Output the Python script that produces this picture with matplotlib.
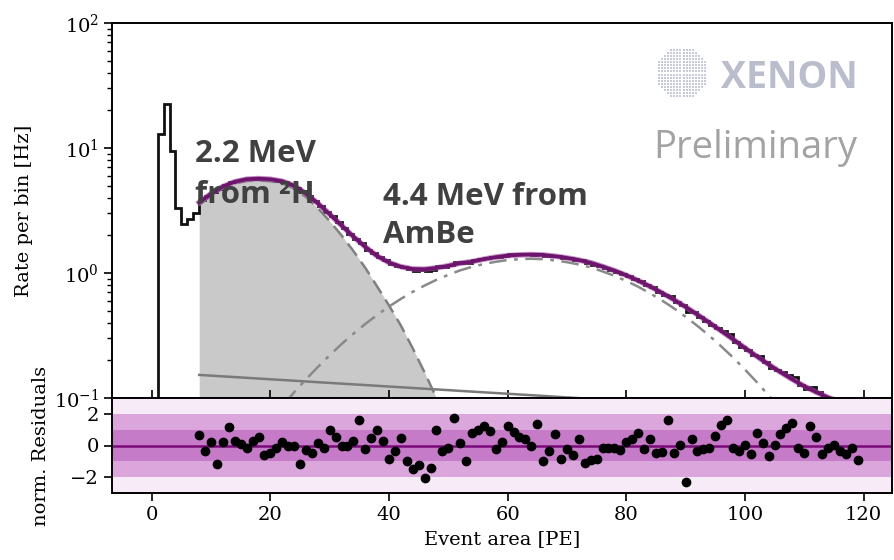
import numpy as np
import matplotlib
matplotlib.use("Agg")
import matplotlib.pyplot as plt

# ---- fit components, sampled every 2 PE ----
curve_x = np.arange(8, 121, 2)
# 2.2 MeV line (neutron capture on hydrogen)
g1 = np.array([3.50, 4.15, 4.75, 5.2, 5.45, 5.5, 5.42, 5.2, 4.75, 4.05, 3.3, 2.6,
               2.0, 1.5, 1.1, 0.78, 0.55, 0.38, 0.25, 0.16, 0.10, 0.06, 0.035])
# 4.4 MeV line from AmBe
g2 = np.array([0.0103, 0.0144, 0.02, 0.0275, 0.0372, 0.0498, 0.0658, 0.0859, 0.111, 0.141,
               0.177, 0.22, 0.27, 0.327, 0.391, 0.462, 0.539, 0.621, 0.707, 0.794,
               0.882, 0.967, 1.05, 1.12, 1.18, 1.23, 1.27, 1.29, 1.3, 1.29,
               1.26, 1.22, 1.17, 1.11, 1.03, 0.95, 0.864, 0.777, 0.689, 0.604,
               0.523, 0.447, 0.377, 0.315, 0.259, 0.211, 0.169, 0.134, 0.105, 0.0815,
               0.0623, 0.047, 0.0351, 0.0258, 0.0188, 0.0135, 0.00957])
# flat background
bg = np.array([0.153, 0.151, 0.1489, 0.147, 0.145, 0.1431, 0.1412, 0.1393, 0.1375, 0.1356,
               0.1338, 0.1321, 0.1303, 0.1286, 0.1269, 0.1252, 0.1235, 0.1219, 0.1203, 0.1187,
               0.1171, 0.1156, 0.114, 0.1125, 0.111, 0.1096, 0.1081, 0.1067, 0.1053, 0.1039,
               0.1025, 0.1011, 0.0998, 0.0985, 0.0972, 0.0959, 0.0946, 0.0933, 0.0921, 0.0909,
               0.0897, 0.0885, 0.0873, 0.0861, 0.085, 0.0839, 0.0827, 0.0816, 0.0806, 0.0795,
               0.0785, 0.0774, 0.0764, 0.0754, 0.0744, 0.0734, 0.0724])

# ---- measured spectrum, 1 PE bins from 1 to 120 PE ----
bin_edges = np.arange(1, 121)
low_rate = [13.0, 22.4, 9.5, 3.33, 2.45, 2.69, 3.04]
fit_rate = [3.84, 4.13, 4.47, 4.71, 5.04, 5.31, 5.45, 5.57, 5.64, 5.69,
            5.7, 5.61, 5.55, 5.47, 5.32, 5.1, 4.82, 4.44, 4.12, 3.76,
            3.44, 3.1, 2.84, 2.54, 2.28, 2.06, 1.87, 1.74, 1.54, 1.44,
            1.35, 1.26, 1.17, 1.14, 1.12, 1.07, 1.04, 1.05, 1.04, 1.06,
            1.13, 1.12, 1.15, 1.22, 1.21, 1.2, 1.26, 1.3, 1.33, 1.35,
            1.35, 1.37, 1.41, 1.41, 1.41, 1.41, 1.4, 1.43, 1.36, 1.37,
            1.37, 1.32, 1.31, 1.27, 1.26, 1.2, 1.16, 1.13, 1.1, 1.06,
            1.02, 0.974, 0.94, 0.899, 0.861, 0.798, 0.766, 0.707, 0.666, 0.658,
            0.584, 0.555, 0.484, 0.487, 0.443, 0.413, 0.384, 0.364, 0.346, 0.324,
            0.282, 0.258, 0.243, 0.219, 0.215, 0.194, 0.173, 0.167, 0.161, 0.154,
            0.147, 0.127, 0.118, 0.123, 0.112, 0.0999, 0.098, 0.0953, 0.0893, 0.0849,
            0.0846, 0.0777]

# ---- normalised residuals ----
resid_x = np.arange(8, 120)
resid = [0.69, -0.35, 0.21, -1.19, 0.20, 1.15, 0.27, 0.12, -0.15, 0.27, 0.54, -0.62,
         -0.46, -0.15, 0.21, -0.04, -0.04, -1.19, -0.31, -0.50, 0.17, -0.15, 1.00, 0.54,
         0.00, 0.00, 0.27, 1.58, -0.25, 0.48, 0.96, 0.27, -0.83, -0.35, 0.48, -0.98,
         -1.50, -1.25, -2.08, -1.40, 1.00, -0.35, -0.15, 1.73, 0.17, -0.98, 0.79, 1.00,
         1.21, 0.90, -0.25, 0.21, 1.21, 0.83, 0.54, 0.38, 0.00, 1.38, -0.98, -0.35,
         0.75, -0.88, -0.25, -0.62, 0.38, -1.08, -0.92, -0.83, -0.15, -0.15, -0.15, -0.29,
         0.21, 0.42, 0.79, -0.25, 0.42, -0.50, -0.42, 1.63, -0.50, 0.06, -2.29, 0.38,
         -0.35, -0.25, -0.15, 0.58, 1.31, 1.58, -0.15, -0.35, 0.06, -0.56, 0.79, 0.17,
         -0.67, 0.06, 0.75, 1.10, 1.42, -0.15, -0.46, 1.21, 0.54, -0.56, -0.15, 0.06,
         -0.35, -0.56, -0.15, -0.92]

x_ticks = [0, 20, 40, 60, 80, 100, 120]

# total fit model = sum of the components
g1_x = curve_x[:len(g1)]
g1_full = np.zeros(len(curve_x))
g1_full[:len(g1)] = g1
total = g1_full + g2 + bg
rate = np.concatenate([low_rate, fit_rate])

plt.rcParams['font.family'] = ['DejaVu Serif']
fig = plt.figure(figsize=(8.94, 5.6), dpi=100)
W, H = 894.0, 560.0
left, right = 112, 892
ax = fig.add_axes([left / W, 1 - 398 / H, (right - left) / W, (398 - 23) / H])
axr = fig.add_axes([left / W, 1 - 493 / H, (right - left) / W, (493 - 398) / H], sharex=ax)

# spectrum panel
ax.fill_between(g1_x, 1e-3, g1, color='#c9c9c9', lw=0)
ax.plot(g1_x, g1, color='#808080', lw=1.8, ls=(0, (6, 3)))
ax.plot(curve_x, g2, color='#8a8a8a', lw=1.8, ls=(0, (7, 3, 1.5, 3)))
ax.plot(curve_x, bg, color='#7a7a7a', lw=1.8)
ax.plot(curve_x, total, color='#a24aa2', lw=4.0, alpha=0.6)
ax.plot(curve_x, total, color='#6e146e', lw=2.6)
ax.stairs(rate, bin_edges, baseline=1e-3, color='#111111', lw=2.0)

ax.set_yscale('log')
ax.set_ylim(0.1, 100)
ax.set_xlim(-6.7, 124.8)
ax.set_xticks(x_ticks)
ax.tick_params(axis='x', direction='in', labelbottom=False, length=6, width=1.2)
ax.tick_params(axis='y', which='major', length=6, width=1.2, labelsize=14)
ax.tick_params(axis='y', which='minor', length=3.5, width=1)
ax.set_ylabel('Rate per bin [Hz]', fontsize=14)
ax.yaxis.set_label_coords(-0.101, 0.5)
for s in ax.spines.values():
    s.set_linewidth(1.4)

# residual panel with 1, 2 and 3 sigma bands
axr.axhspan(-3, 3, color='#f7ebf7', lw=0)
axr.axhspan(-2, 2, color='#dba6dc', lw=0)
axr.axhspan(-1, 1, color='#c57bc7', lw=0)
axr.axhline(0, color='#7a0a7a', lw=1.8)
axr.plot(resid_x, resid, 'o', color='black', ms=6)
axr.set_ylim(-3, 3)
axr.set_yticks([-2, 0, 2])
axr.tick_params(labelsize=14, length=6, width=1.2)
axr.set_xlabel('Event area [PE]', fontsize=14)
axr.set_ylabel('norm. Residuals', fontsize=14)
axr.yaxis.set_label_coords(-0.0795, 0.5)
for s in axr.spines.values():
    s.set_linewidth(1.4)

bold = dict(family=['Open Sans', 'DejaVu Sans'], fontweight='bold', fontsize=22.5, color='#404040')
fig.text(195 / W, 1 - 162 / H, '2.2 MeV', va='baseline', **bold)
fig.text(195 / W, 1 - 203 / H, 'from ²H', va='baseline', **bold)
fig.text(383 / W, 1 - 205 / H, '4.4 MeV from', va='baseline', **bold)
fig.text(383 / W, 1 - 243 / H, 'AmBe', va='baseline', **bold)

fig.text(721 / W, 1 - 88 / H, 'XENON', va='baseline', family=['Open Sans', 'DejaVu Sans'],
         fontweight='bold', fontsize=27, color='#b9bdcc')
fig.text(653 / W, 1 - 158 / H, 'Preliminary', va='baseline', family=['Open Sans', 'DejaVu Sans'],
         fontsize=27.5, color='#a3a3a3')

# dotted globe emblem
gax = fig.add_axes([654 / W, 1 - 101 / H, 56 / W, 56 / H])
gx, gy = np.meshgrid(np.linspace(-1, 1, 18), np.linspace(-1, 1, 18))
inside = gx ** 2 + gy ** 2 <= 1.0
gax.scatter(gx[inside], gy[inside], s=4.5, marker='s', color='#c6cad9', lw=0)
gax.set_xlim(-1.08, 1.08)
gax.set_ylim(-1.08, 1.08)
gax.axis('off')

fig.savefig('out.png', dpi=100)
